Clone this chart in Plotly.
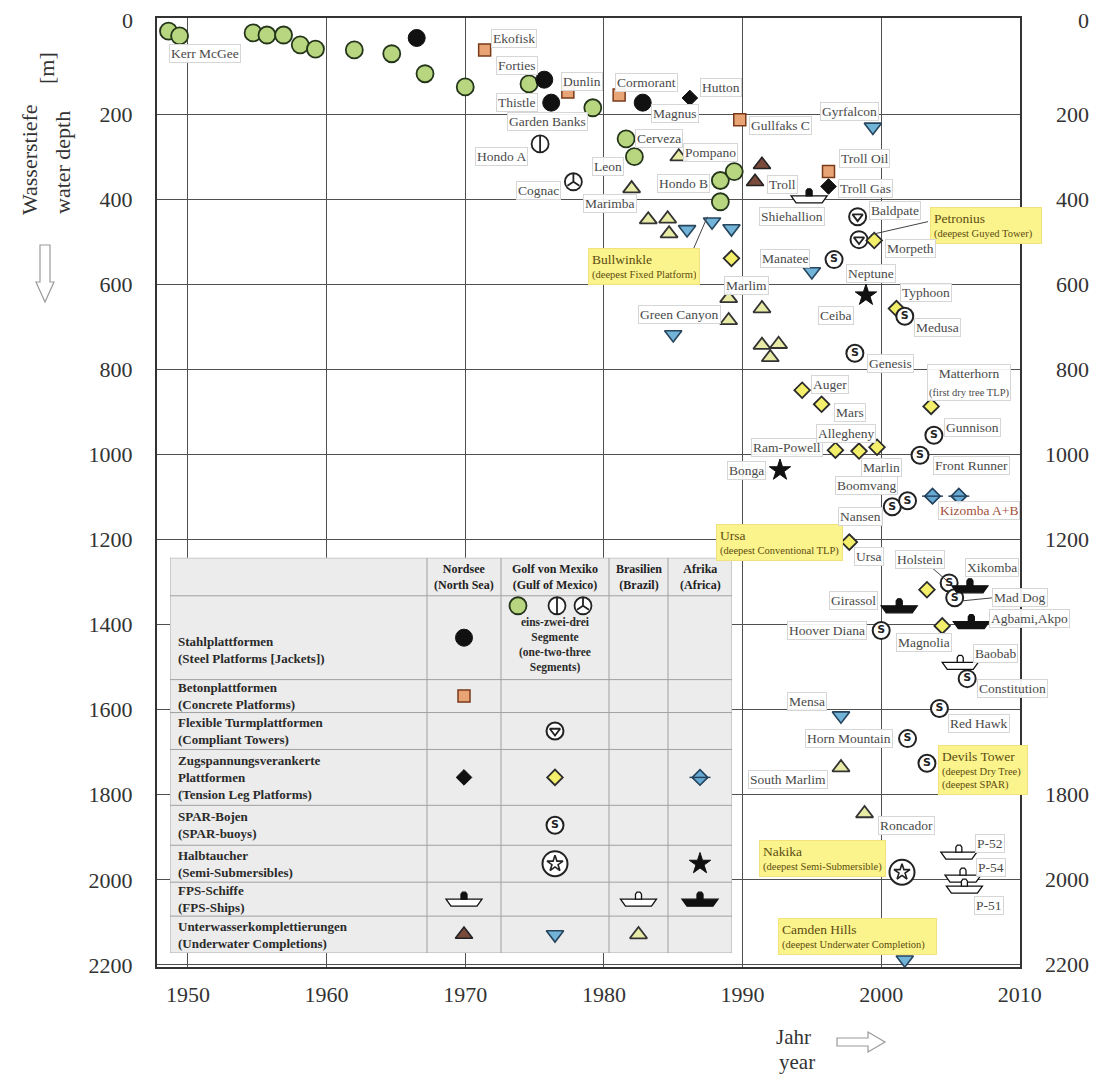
import plotly.graph_objects as go

SERIF = "Liberation Serif"
INK = "#333333"
LABEL_INK = "#4a4a4a"

# ================= values: year, water depth [m] =================
# Gulf of Mexico - steel jackets, one segment (green circles)
gom_jacket_year = [1948.6, 1949.4, 1954.7, 1955.7, 1956.9, 1958.1, 1959.2, 1962.0, 1964.7,
                   1967.1, 1970.0, 1974.6, 1979.2, 1981.6, 1982.2, 1988.4, 1989.4, 1988.4]
gom_jacket_depth = [5, 16, 9, 14, 14, 37, 47, 49, 58, 105, 136, 129, 185, 258, 300, 356, 335, 406]
gom_jacket_name = ["", "Kerr McGee", "", "", "", "", "", "", "", "", "", "", "Garden Banks",
                   "Cerveza", "Leon", "Hondo B", "", "Bullwinkle"]

# jackets in two / three segments
gom_two_seg_year = [1975.4]
gom_two_seg_depth = [270]
gom_two_seg_name = ["Hondo A"]
gom_three_seg_year = [1977.8]
gom_three_seg_depth = [359]
gom_three_seg_name = ["Cognac"]

# North Sea - steel jackets
ns_jacket_year = [1966.5, 1975.7, 1976.2, 1982.8]
ns_jacket_depth = [21, 119, 173, 173]
ns_jacket_name = ["", "Forties", "Thistle", "Magnus"]

# North Sea - concrete platforms
ns_concrete_year = [1971.4, 1977.4, 1981.1, 1989.8, 1996.2]
ns_concrete_depth = [49, 148, 155, 213, 335]
ns_concrete_name = ["Ekofisk", "Dunlin", "Cormorant", "Gullfaks C", "Troll Oil"]

# North Sea - tension leg platforms
ns_tlp_year = [1986.2, 1996.2]
ns_tlp_depth = [162, 370]
ns_tlp_name = ["Hutton", "Troll Gas"]

# Gulf of Mexico - compliant towers
gom_ct_year = [1998.3, 1998.4]
gom_ct_depth = [441, 495]
gom_ct_name = ["Baldpate", "Petronius"]

# Gulf of Mexico - tension leg platforms
gom_tlp_year = [1989.2, 1994.3, 1995.7, 1996.7, 1998.4, 1999.7, 1999.5, 2001.1, 2003.6,
                1997.7, 2003.3, 2004.4]
gom_tlp_depth = [539, 849, 882, 990, 992, 983, 497, 657, 887, 1206, 1318, 1403]
gom_tlp_name = ["", "Auger", "Mars", "Ram-Powell", "Allegheny", "Marlin", "Morpeth", "Typhoon",
                "Matterhorn", "Ursa", "", "Magnolia"]

# Africa - tension leg platforms
africa_tlp_year = [2003.7, 2005.6]
africa_tlp_depth = [1098, 1098]
africa_tlp_name = ["", "Kizomba A+B"]

# Gulf of Mexico - SPAR buoys
gom_spar_year = [1996.6, 1998.1, 2001.7, 2003.8, 2002.8, 2000.8, 2001.9, 2004.9, 2005.3,
                 2000.0, 2006.2, 2004.2, 2001.9, 2003.3]
gom_spar_depth = [542, 762, 675, 955, 1002, 1123, 1109, 1302, 1337, 1414, 1527, 1597, 1668, 1726]
gom_spar_name = ["Neptune", "Genesis", "Medusa", "Gunnison", "Front Runner", "Boomvang", "Nansen",
                 "Holstein", "Mad Dog", "Hoover Diana", "Constitution", "Red Hawk",
                 "Horn Mountain", "Devils Tower"]

# semi-submersibles
gom_semi_year = [2001.5]
gom_semi_depth = [1982]
gom_semi_name = ["Nakika"]
africa_semi_year = [1998.9, 1992.7]
africa_semi_depth = [626, 1037]
africa_semi_name = ["Ceiba", "Bonga"]

# FPS ships
ns_fps_year = [1994.8]
ns_fps_depth = [399]
ns_fps_name = ["Shiehallion"]
brazil_fps_year = [2005.7, 2005.6, 2005.9, 2006.0]
brazil_fps_depth = [1496, 1942, 1996, 2022]
brazil_fps_name = ["Baobab", "P-52", "P-54", "P-51"]
africa_fps_year = [2006.4, 2001.3, 2006.5]
africa_fps_depth = [1316, 1363, 1400]
africa_fps_name = ["Xikomba", "Girassol", "Agbami,Akpo"]

# underwater completions
ns_subsea_year = [1991.4, 1990.9]
ns_subsea_depth = [319, 359]
ns_subsea_name = ["", "Troll"]
gom_subsea_year = [1986.0, 1987.8, 1989.2, 1985.0, 1999.4, 1995.0, 1997.1, 2001.7]
gom_subsea_depth = [471, 453, 469, 718, 230, 570, 1614, 2188]
gom_subsea_name = ["", "", "", "Green Canyon", "Gyrfalcon", "Manatee", "Mensa", "Camden Hills"]
brazil_subsea_year = [1985.4, 1982.0, 1983.2, 1984.6, 1984.7, 1989.0, 1991.4, 1989.0, 1991.4,
                      1992.6, 1992.0, 1997.1, 1998.8]
brazil_subsea_depth = [300, 375, 448, 446, 481, 633, 657, 685, 743, 741, 772, 1736, 1844]
brazil_subsea_name = ["Pompano", "Marimba", "", "", "", "Marlim", "", "", "", "", "",
                      "South Marlim", "Roncador"]

# axis ticks
year_ticks = [1950, 1960, 1970, 1980, 1990, 2000, 2010]
depth_ticks = [0, 200, 400, 600, 800, 1000, 1200, 1400, 1600, 1800, 2000, 2200]
right_depth_labels = [0, 200, 400, 600, 800, 1000, 1200, 1800, 2000, 2200]

# legend table text
table_headers = [("Nordsee", "(North Sea)"), ("Golf von Mexiko", "(Gulf of Mexico)"),
                 ("Brasilien", "(Brazil)"), ("Afrika", "(Africa)")]
table_rows = [
    ["Stahlplattformen", "(Steel Platforms [Jackets])"],
    ["Betonplattformen", "(Concrete Platforms)"],
    ["Flexible Turmplattformen", "(Compliant Towers)"],
    ["Zugspannungsverankerte", "Plattformen", "(Tension Leg Platforms)"],
    ["SPAR-Bojen", "(SPAR-buoys)"],
    ["Halbtaucher", "(Semi-Submersibles)"],
    ["FPS-Schiffe", "(FPS-Ships)"],
    ["Unterwasserkomplettierungen", "(Underwater Completions)"],
]
segment_note = ["eins-zwei-drei", "Segmente", "(one-two-three", "Segments)"]
legend_cells = [(0, 0, "ns_jacket"), (1, 0, "ns_concrete"), (2, 1, "gom_ct"),
                (3, 0, "ns_tlp"), (3, 1, "gom_tlp"), (3, 3, "africa_tlp"),
                (4, 1, "spar"), (5, 1, "gom_semi"), (5, 3, "africa_semi"),
                (6, 0, "ns_fps"), (6, 2, "brazil_fps"), (6, 3, "africa_fps"),
                (7, 0, "ns_subsea"), (7, 1, "gom_subsea"), (7, 2, "brazil_subsea")]

# ================= layout geometry / styles =================
PAGE_OFF = 8                       # default body margin of the html page
PLOT_L, PLOT_T = 157, 16           # plot area position on the page
PW, PH = 863, 951
ML, MT = PLOT_L - PAGE_OFF, PLOT_T - PAGE_OFF
MR, MB = 87, 109
W, H = ML + PW + MR, MT + PH + MB
TABLE_X = [170, 427, 501, 609, 668, 732]           # page-pixel geometry of legend table
TABLE_Y = [557, 595, 679, 712, 749, 805, 845, 882, 916, 953]

LABEL_OFFSET = {
    "Kerr McGee": (25, -18), "Garden Banks": (-45, -14), "Cerveza": (33, 0), "Leon": (-26, -10),
    "Hondo B": (-37, -3), "Forties": (-27, 14), "Thistle": (-34, 0), "Magnus": (32, -11),
    "Hondo A": (-39, -13), "Cognac": (-35, -9), "Ekofisk": (29, 11), "Dunlin": (14, 11),
    "Cormorant": (27, 13), "Gullfaks C": (41, -6), "Troll Oil": (36, 13), "Hutton": (31, 10),
    "Troll Gas": (37, -2), "Baldpate": (37, 6), "Morpeth": (36, -8), "Auger": (28, 6),
    "Mars": (28, -8), "Ram-Powell": (-48, 3), "Allegheny": (-13, 18), "Marlin": (4, -20),
    "Typhoon": (30, 16), "Matterhorn": (38, 24), "Ursa": (20, -14), "Magnolia": (-18, -17),
    "Pompano": (32, 4), "Marimba": (-22, -15), "Marlim": (18, 13), "South Marlim": (-53, -12),
    "Roncador": (42, -12), "Troll": (27, -3), "Green Canyon": (6, 20), "Gyrfalcon": (-23, 15),
    "Manatee": (-27, 13), "Mensa": (-34, 14), "Kizomba A+B": (20, -14), "Ceiba": (-30, -20),
    "Bonga": (-33, 0), "Neptune": (37, -14), "Genesis": (36, -10), "Medusa": (33, -11),
    "Gunnison": (39, 8), "Front Runner": (51, -10), "Boomvang": (-26, 21), "Nansen": (-47, -16),
    "Holstein": (-29, 23), "Mad Dog": (65, 0), "Hoover Diana": (-54, 0), "Constitution": (45, -10),
    "Red Hawk": (40, -15), "Horn Mountain": (-59, 0), "Shiehallion": (-17, -18),
    "Xikomba": (22, 21), "Girassol": (-46, 8), "Agbami,Akpo": (58, 6), "Baobab": (35, 12),
    "P-52": (31, 12), "P-54": (28, 11), "P-51": (25, -16),
}
LABEL_TEXT = {"Matterhorn": "Matterhorn<br><span style='font-size:10.5px'>(first dry tree TLP)</span>"}
LABEL_COLOR = {"Kizomba A+B": "#a24f3a"}

CALLOUTS = {  # subtitle, dx, dy, box width
    "Bullwinkle": ("(deepest Fixed Platform)", -76, -65, 104),
    "Petronius": ("(deepest Guyed Tower)", 127, 14, 104),
    "Ursa": ("(deepest Conventional TLP)", -70, 0, 119),
    "Devils Tower": ("(deepest Dry Tree)<br>(deepest SPAR)", 56, -7, 82),
    "Nakika": ("(deepest Semi-Submersible)", -80, 14, 119),
    "Camden Hills": ("(deepest Underwater Completion)", -47, 23, 151),
}
LEADERS = {"Bullwinkle": (-29, -52, -13, -15), "Petronius": (69, 18, 12, 5),
           "Holstein": (-17, 15, -2, 2), "Mad Dog": (8, -3, 38, 0)}

HULL = "M-18,3L18,3L13,-4L-13,-4Z"
TOWER = "M-3,3L-3,8L-1.5,10L1.5,10L3,8L3,3Z"

fig = go.Figure()


def add_ship(xa, ya, hull_fill, tower_fill, xref="x", yref="y"):
    common = dict(type="path", xref=xref, yref=yref, xsizemode="pixel", ysizemode="pixel",
                  xanchor=xa, yanchor=ya, layer="above", line=dict(color="#111", width=1.3))
    fig.add_shape(path=HULL, fillcolor=hull_fill, **common)
    fig.add_shape(path=TOWER, fillcolor=tower_fill, **common)


def draw(kind, xs, ys, xaxis="x", yaxis="y"):
    def sc(symbol, size, color, lc=None, lw=1.6):
        fig.add_trace(go.Scatter(
            x=xs, y=ys, xaxis=xaxis, yaxis=yaxis, mode="markers", cliponaxis=False,
            hoverinfo="skip", showlegend=False,
            marker=dict(symbol=symbol, size=size, color=color,
                        line=dict(color=lc or color, width=lw))))

    if kind == "gom_jacket":
        sc("circle", 17, "#b7d67f", "#24351a", 1.8)
    elif kind == "gom_two":
        sc("circle", 17, "white", "#222", 1.8)
        sc("line-ns-open", 12, "#222", lw=1.8)
    elif kind == "gom_three":
        sc("circle", 17, "white", "#222", 1.8)
        sc("y-up-open", 10, "#222", lw=1.8)
    elif kind == "ns_jacket":
        sc("circle", 17, "#111", "#111", 1)
    elif kind == "ns_concrete":
        sc("square", 12, "#e8a474", "#7a3a1a", 1.5)
    elif kind == "ns_tlp":
        sc("diamond", 12, "#111", "#111", 1)
    elif kind == "gom_ct":
        sc("circle", 17, "white", "#222", 2)
        sc("triangle-down-open", 9, "#222", lw=1.8)
    elif kind == "gom_tlp":
        sc("diamond", 12, "#f3ef6a", "#2a2a2a", 1.8)
    elif kind == "africa_tlp":
        sc("diamond", 12, "#66a9d3", "#22405a", 1.6)
        sc("line-ew-open", 15, "#22405a", lw=1.4)
    elif kind == "spar":
        sc("circle", 17, "white", "#222", 2)
        fig.add_trace(go.Scatter(
            x=xs, y=ys, xaxis=xaxis, yaxis=yaxis, mode="text", text=["S"] * len(xs),
            textposition="middle center", cliponaxis=False, hoverinfo="skip", showlegend=False,
            textfont=dict(family="DejaVu Sans", size=11, color="#222", weight="bold")))
    elif kind == "gom_semi":
        sc("circle", 25, "white", "#222", 2)
        sc("star-open", 12, "#222", lw=1.6)
    elif kind == "africa_semi":
        sc("star", 16, "#111", "#111", 1)
    elif kind in ("ns_fps", "brazil_fps", "africa_fps"):
        hull, tower = {"ns_fps": ("white", "#111"), "brazil_fps": ("white", "white"),
                       "africa_fps": ("#111", "#111")}[kind]
        for x, y in zip(xs, ys):
            add_ship(x, y, hull, tower, xref=xaxis, yref=yaxis)
    elif kind == "ns_subsea":
        sc("triangle-up", 15, "#7a4a3b", "#222", 1.6)
    elif kind == "gom_subsea":
        sc("triangle-down", 15, "#71b4d8", "#27455d", 1.6)
    elif kind == "brazil_subsea":
        sc("triangle-up", 15, "#e8eba5", "#333", 1.8)


SERIES = [
    ("gom_jacket", gom_jacket_year, gom_jacket_depth, gom_jacket_name),
    ("gom_two", gom_two_seg_year, gom_two_seg_depth, gom_two_seg_name),
    ("gom_three", gom_three_seg_year, gom_three_seg_depth, gom_three_seg_name),
    ("ns_jacket", ns_jacket_year, ns_jacket_depth, ns_jacket_name),
    ("ns_concrete", ns_concrete_year, ns_concrete_depth, ns_concrete_name),
    ("ns_tlp", ns_tlp_year, ns_tlp_depth, ns_tlp_name),
    ("ns_subsea", ns_subsea_year, ns_subsea_depth, ns_subsea_name),
    ("brazil_subsea", brazil_subsea_year, brazil_subsea_depth, brazil_subsea_name),
    ("gom_subsea", gom_subsea_year, gom_subsea_depth, gom_subsea_name),
    ("gom_ct", gom_ct_year, gom_ct_depth, gom_ct_name),
    ("gom_tlp", gom_tlp_year, gom_tlp_depth, gom_tlp_name),
    ("africa_tlp", africa_tlp_year, africa_tlp_depth, africa_tlp_name),
    ("spar", gom_spar_year, gom_spar_depth, gom_spar_name),
    ("gom_semi", gom_semi_year, gom_semi_depth, gom_semi_name),
    ("africa_semi", africa_semi_year, africa_semi_depth, africa_semi_name),
    ("ns_fps", ns_fps_year, ns_fps_depth, ns_fps_name),
    ("brazil_fps", brazil_fps_year, brazil_fps_depth, brazil_fps_name),
    ("africa_fps", africa_fps_year, africa_fps_depth, africa_fps_name),
]

for kind, xs, ys, names in SERIES:
    draw(kind, xs, ys)

# labels, callouts, leader lines
for kind, xs, ys, names in SERIES:
    for x, y, n in zip(xs, ys, names):
        if not n:
            continue
        if n in LEADERS:
            x0, y0, x1, y1 = LEADERS[n]
            fig.add_shape(type="line", xref="x", yref="y", xsizemode="pixel", ysizemode="pixel",
                          xanchor=x, yanchor=y, x0=x0, y0=y0, x1=x1, y1=y1, layer="above",
                          line=dict(color="#444", width=1))
        if n in LABEL_OFFSET:
            dx, dy = LABEL_OFFSET[n]
            fig.add_annotation(x=x, y=y, xref="x", yref="y", text=LABEL_TEXT.get(n, n),
                               showarrow=False, xshift=dx, yshift=dy,
                               font=dict(family=SERIF, size=13.5, color=LABEL_COLOR.get(n, LABEL_INK)),
                               bgcolor="rgba(255,255,255,0.92)", bordercolor="#d6d6d6",
                               borderwidth=1, borderpad=1)
        if n in CALLOUTS:
            sub, dx, dy, bw = CALLOUTS[n]
            fig.add_annotation(x=x, y=y, xref="x", yref="y",
                               text=f"<span style='font-size:13.5px'>{n}</span><br>{sub}",
                               showarrow=False, xshift=dx, yshift=dy, align="left", width=bw,
                               font=dict(family=SERIF, size=10.5, color="#5b4d12"),
                               bgcolor="#fbf38b", bordercolor="#f1e27c", borderwidth=1, borderpad=3)

# ================= legend table (overlay axes in page-pixel units) =================
fig.add_shape(type="rect", xref="x2", yref="y2", x0=TABLE_X[0], x1=TABLE_X[-1],
              y0=TABLE_Y[0], y1=TABLE_Y[-1], fillcolor="#ececec",
              line=dict(color="#a8a8a8", width=1), layer="below")
for yb in TABLE_Y[1:-1]:
    fig.add_shape(type="line", xref="x2", yref="y2", x0=TABLE_X[0], x1=TABLE_X[-1], y0=yb, y1=yb,
                  line=dict(color="#a0a0a0", width=1), layer="below")
for xb in TABLE_X[1:-1]:
    fig.add_shape(type="line", xref="x2", yref="y2", x0=xb, x1=xb, y0=TABLE_Y[0], y1=TABLE_Y[-1],
                  line=dict(color="#a0a0a0", width=1), layer="below")

col_c = [(TABLE_X[i] + TABLE_X[i + 1]) / 2 for i in range(1, 5)]
row_c = [(TABLE_Y[i] + TABLE_Y[i + 1]) / 2 for i in range(1, 9)]

for (de, en), cx in zip(table_headers, col_c):
    fig.add_annotation(x=cx, y=(TABLE_Y[0] + TABLE_Y[1]) / 2, xref="x2", yref="y2",
                       text=f"{de}<br>{en}", showarrow=False,
                       font=dict(family=SERIF, size=12, color="#222", weight="bold"))
for i, lines in enumerate(table_rows):
    fig.add_annotation(x=TABLE_X[0] + 6, y=row_c[i] + (12 if i == 0 else 0), xref="x2", yref="y2",
                       text="<br>".join(lines), showarrow=False, xanchor="left", align="left",
                       font=dict(family=SERIF, size=13, color="#2a2a2a", weight="bold"))
fig.add_annotation(x=col_c[1], y=TABLE_Y[1] + 49, xref="x2", yref="y2",
                   text="<br>".join(segment_note), showarrow=False,
                   font=dict(family=SERIF, size=11.5, color="#2a2a2a", weight="bold"))

for r, c, kind in legend_cells:
    yy = row_c[r] + (3 if kind.endswith("fps") else 0)
    draw(kind, [col_c[c]], [yy], xaxis="x2", yaxis="y2")
for off, kind in zip([-37, 2, 28], ["gom_jacket", "gom_two", "gom_three"]):
    draw(kind, [col_c[1] + off], [TABLE_Y[1] + 10], xaxis="x2", yaxis="y2")

# ================= axis titles, arrows, tick labels =================
def ptext(text, px, py, size=22, angle=0):
    fig.add_annotation(xref="paper", yref="paper", x=0, y=1, xshift=px - PLOT_L,
                       yshift=-(py - PLOT_T), text=text, showarrow=False, textangle=angle,
                       xanchor="center", yanchor="middle",
                       font=dict(family=SERIF, size=size, color=INK))

ptext("Wasserstiefe", 29, 158, angle=-90)
ptext("water depth", 62, 161, angle=-90)
ptext("[m]", 46, 66, angle=-90)
ptext("Jahr", 793, 1035, size=21)
ptext("year", 797, 1060, size=21)

arrow_style = dict(type="path", xref="paper", yref="paper", xsizemode="pixel", ysizemode="pixel",
                   xanchor=0, yanchor=1, fillcolor="white", line=dict(color="#9a9a9a", width=1.2),
                   layer="above")
fig.add_shape(path="M-117,-227L-107,-227L-107,-264L-103,-264L-112,-284L-121,-264L-117,-264Z",
              **arrow_style)
fig.add_shape(path="M680,-1020L711,-1020L711,-1014L728,-1024L711,-1034L711,-1028L680,-1028Z",
              **arrow_style)

# "0" at top of the left axis, right-hand depth labels
fig.add_annotation(xref="paper", yref="paper", x=0, y=1, xanchor="right", yanchor="middle",
                   xshift=-22, yshift=-2, text=str(depth_ticks[0]), showarrow=False,
                   font=dict(family=SERIF, size=22, color=INK))
for v in right_depth_labels:
    if v == 0:
        fig.add_annotation(xref="paper", yref="paper", x=1, y=1, xanchor="right", yanchor="middle",
                           xshift=71, yshift=-2, text=str(v), showarrow=False,
                           font=dict(family=SERIF, size=22, color=INK))
    else:
        fig.add_annotation(xref="paper", yref="y", x=1, y=v, xanchor="right", yanchor="middle",
                           xshift=71, text=str(v), showarrow=False,
                           font=dict(family=SERIF, size=22, color=INK))

fig.update_layout(
    width=W, height=H, autosize=False,
    margin=dict(l=ML, r=MR, t=MT, b=MB),
    paper_bgcolor="white", plot_bgcolor="white", showlegend=False,
    font=dict(family=SERIF),
    xaxis=dict(range=[1947.77, 2010.01], tickvals=year_ticks, showgrid=True, gridcolor="#505050",
               gridwidth=1.2, showline=True, linecolor="#333", linewidth=2, mirror=True, ticks="",
               zeroline=False, ticklabelstandoff=7,
               tickfont=dict(family=SERIF, size=22, color=INK)),
    yaxis=dict(range=[2204.9, -26], tickvals=depth_ticks[1:], showgrid=True, gridcolor="#505050",
               gridwidth=1.2, showline=True, linecolor="#333", linewidth=2, mirror=True, ticks="",
               zeroline=False, ticklabelstandoff=18,
               tickfont=dict(family=SERIF, size=22, color=INK)),
    xaxis2=dict(domain=[(TABLE_X[0] - PLOT_L) / PW, (TABLE_X[-1] - PLOT_L) / PW],
                range=[TABLE_X[0], TABLE_X[-1]], visible=False, anchor="y2", showgrid=False),
    yaxis2=dict(domain=[1 - (TABLE_Y[-1] - PLOT_T) / PH, 1 - (TABLE_Y[0] - PLOT_T) / PH],
                range=[TABLE_Y[-1], TABLE_Y[0]], visible=False, anchor="x2", showgrid=False),
)

fig.write_html("out.html", config={"displayModeBar": False})
